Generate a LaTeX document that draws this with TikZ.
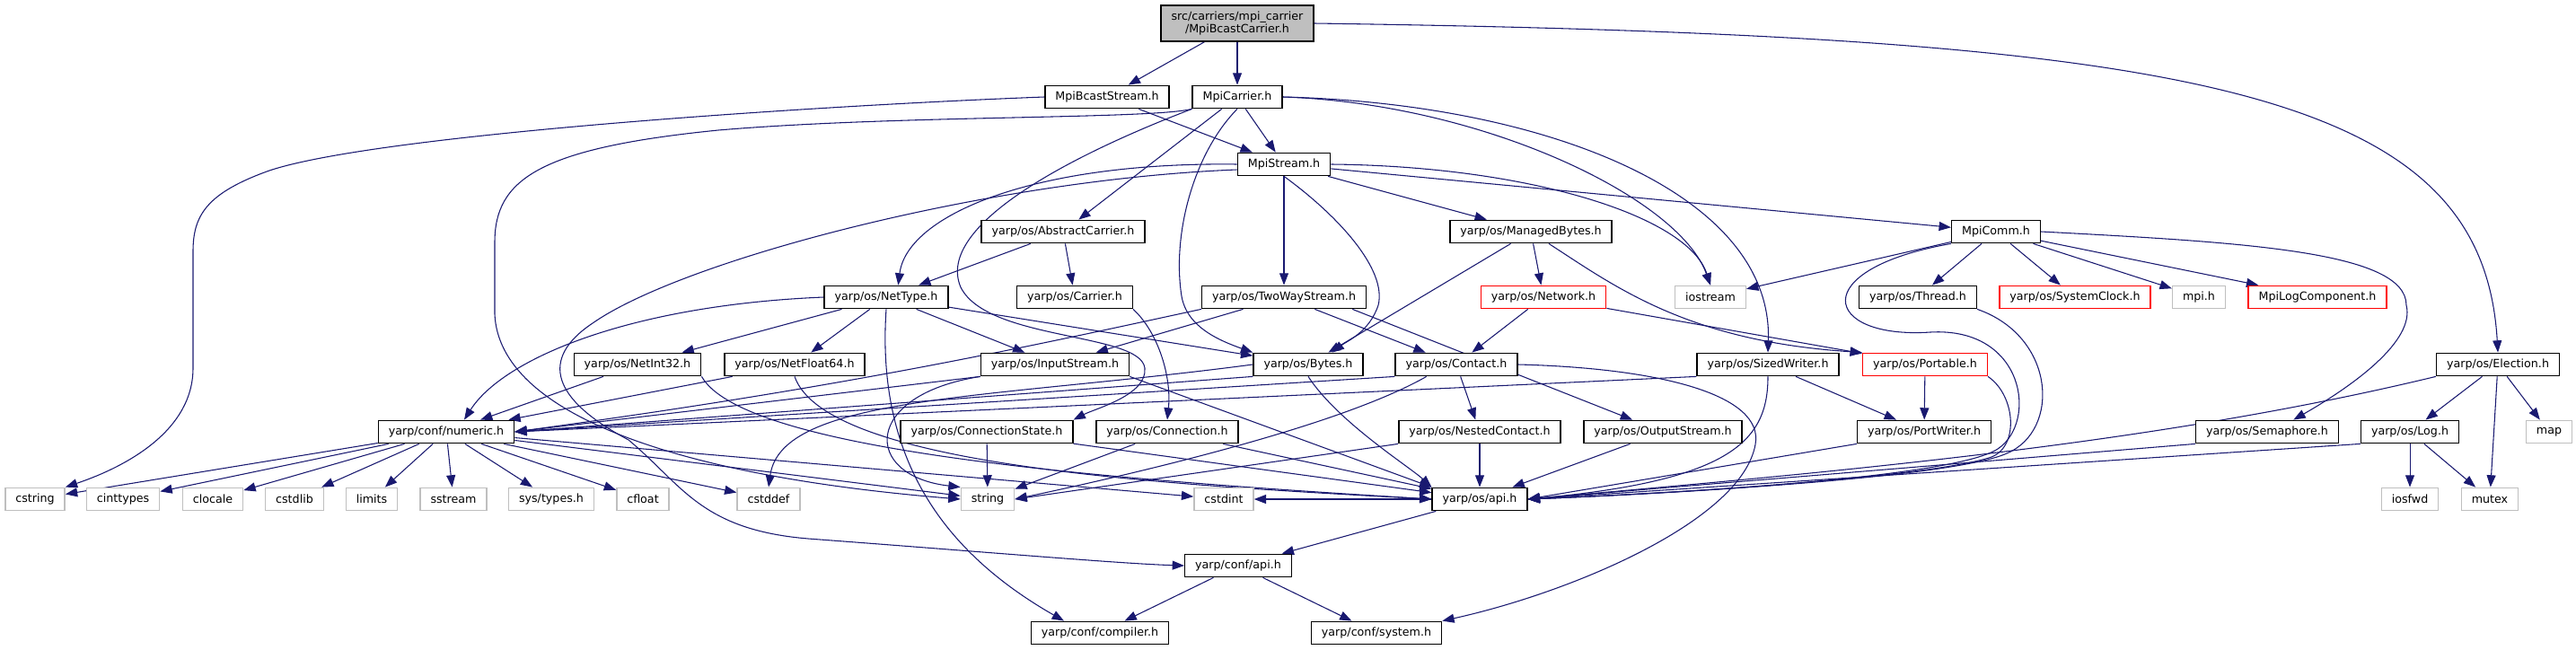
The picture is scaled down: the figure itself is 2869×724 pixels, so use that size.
\documentclass[tikz,border=0pt]{standalone}
\usepackage{fontspec}
\setmainfont{DejaVu Sans}
\usetikzlibrary{arrows.meta, backgrounds}

\definecolor{edgeblue}{HTML}{191970}
\definecolor{sysgray}{HTML}{BFBFBF}

\begin{document}
\begin{tikzpicture}[x=0.75pt, y=-0.75pt,
    every node/.style={font=\fontsize{9.5}{11}\selectfont, fill=white,
      inner xsep=8.6pt, inner ysep=0pt, minimum height=19pt},
    hdr/.style={draw=black, line width=1.1pt},
    redhdr/.style={draw=red, line width=1.1pt},
    syshdr/.style={draw=sysgray, line width=1.1pt},
    dep/.style={edgeblue, line width=0.8pt, -{Triangle[length=10pt, width=7.5pt]}}]
  \useasboundingbox (0,0) rectangle (2869,724);

  % Header of the graph
  \node[hdr, fill=sysgray, align=center, minimum height=30pt] (bcastcarrier) at (1378,26)
    {src/carriers/mpi\_carrier\\/MpiBcastCarrier.h};

  % Carrier headers
  \node[hdr] (bcaststream) at (1233,108) {MpiBcastStream.h};
  \node[hdr] (mpicarrier) at (1378,108) {MpiCarrier.h};
  \node[hdr] (mpistream) at (1430,183) {MpiStream.h};
  \node[hdr] (abscarrier) at (1184,258) {yarp/os/AbstractCarrier.h};
  \node[hdr] (managedbytes) at (1705,258) {yarp/os/ManagedBytes.h};
  \node[hdr] (mpicomm) at (2223,258) {MpiComm.h};

  % Fourth row
  \node[hdr] (nettype) at (987,331) {yarp/os/NetType.h};
  \node[hdr] (carrier) at (1197,331) {yarp/os/Carrier.h};
  \node[hdr] (twowaystream) at (1430,331) {yarp/os/TwoWayStream.h};
  \node[redhdr] (network) at (1719,331) {yarp/os/Network.h};
  \node[syshdr] (iostream) at (1905,331) {iostream};
  \node[hdr] (thread) at (2136,331) {yarp/os/Thread.h};
  \node[redhdr] (sysclock) at (2311,331) {yarp/os/SystemClock.h};
  \node[syshdr] (mpih) at (2449,331) {mpi.h};
  \node[redhdr] (logcomp) at (2581,331) {MpiLogComponent.h};

  % Fifth row
  \node[hdr] (netint) at (710,406) {yarp/os/NetInt32.h};
  \node[hdr] (netfloat) at (885,406) {yarp/os/NetFloat64.h};
  \node[hdr] (inputstream) at (1175,406) {yarp/os/InputStream.h};
  \node[hdr] (bytes) at (1457,406) {yarp/os/Bytes.h};
  \node[hdr] (contact) at (1622,406) {yarp/os/Contact.h};
  \node[hdr] (sizedwriter) at (1969,406) {yarp/os/SizedWriter.h};
  \node[redhdr] (portable) at (2144,406) {yarp/os/Portable.h};
  \node[hdr] (election) at (2782,406) {yarp/os/Election.h};

  % Sixth row
  \node[hdr] (numeric) at (497,481) {yarp/conf/numeric.h};
  \node[hdr] (connstate) at (1099,481) {yarp/os/ConnectionState.h};
  \node[hdr] (connection) at (1300,481) {yarp/os/Connection.h};
  \node[hdr] (nestedcontact) at (1648,481) {yarp/os/NestedContact.h};
  \node[hdr] (outputstream) at (1852,481) {yarp/os/OutputStream.h};
  \node[hdr] (portwriter) at (2143,481) {yarp/os/PortWriter.h};
  \node[hdr] (semaphore) at (2525,481) {yarp/os/Semaphore.h};
  \node[hdr] (oslog) at (2684,481) {yarp/os/Log.h};
  \node[syshdr] (map) at (2839,481) {map};

  % System headers
  \foreach \inc/\px in {cstring/39, cinttypes/137, clocale/237, cstdlib/328, limits/414,
      sstream/505, cfloat/716, cstddef/856, string/1100, cstdint/1363, iosfwd/2684, mutex/2773}
    \node[syshdr] (\inc) at (\px,556) {\inc};
  \node[syshdr] (systypes) at (614,556) {sys/types.h};
  \node[hdr] (osapi) at (1648,556) {yarp/os/api.h};

  % Bottom rows
  \node[hdr] (confapi) at (1379,630) {yarp/conf/api.h};
  \node[hdr] (compiler) at (1225,705) {yarp/conf/compiler.h};
  \node[hdr] (confsystem) at (1533,705) {yarp/conf/system.h};

  \begin{scope}[on background layer]
    % Straight includes
    \foreach \src/\dst in {bcastcarrier/bcaststream, bcastcarrier/mpicarrier,
        bcaststream/mpistream, mpicarrier/mpistream, mpicarrier/abscarrier,
        mpistream/twowaystream, mpistream/managedbytes, mpistream/mpicomm,
        abscarrier/nettype, abscarrier/carrier, managedbytes/bytes, managedbytes/network,
        mpicomm/iostream, mpicomm/thread, mpicomm/sysclock, mpicomm/mpih, mpicomm/logcomp,
        nettype/netint, nettype/netfloat, nettype/inputstream, nettype/bytes,
        twowaystream/inputstream, twowaystream/contact,
        network/contact, network/portable, netint/numeric, netfloat/numeric,
        contact/nestedcontact, sizedwriter/portwriter, portable/portwriter,
        election/oslog, election/map, election/mutex,
        connstate/string, connstate/osapi, connection/string, connection/osapi,
        nestedcontact/osapi, outputstream/osapi, oslog/iosfwd, oslog/mutex,
        osapi/confapi, osapi/cstdint, confapi/compiler, confapi/confsystem}
      \draw[dep] (\src) -- (\dst);
    \draw[dep] ([xshift=-12pt]twowaystream.south east) -- (outputstream);

    % numeric.h pulls in the standard headers
    \foreach \dst in {cstring, cinttypes, clocale, cstdlib, limits, sstream,
        systypes, cfloat, cstddef, string, cstdint}
      \draw[dep] (numeric) -- (\dst);

    % Long lines into numeric.h and api.h
    \foreach \src in {inputstream, bytes, contact, sizedwriter}
      \draw[dep] (\src.south west) -- (numeric.east);
    \foreach \src in {portwriter, semaphore, oslog}
      \draw[dep] (\src.south west) -- (osapi.east);
    \draw[dep] (nestedcontact.south west) -- (string.east);
    \draw[dep] (inputstream.south east) -- (osapi.north west);

    % Curved includes, top part
    \draw[dep] (bcastcarrier.east) .. controls (2450,40) and (2765,100) .. (election.north);
    \draw[dep] (bcaststream.west) .. controls (900,118) and (420,150) .. (300,190)
      .. controls (230,215) and (215,240) .. (215,280) -- (215,410)
      .. controls (215,480) and (140,520) .. (cstring.north east);
    \draw[dep] (mpicarrier.south west) .. controls (1280,133) and (1000,128) .. (800,145)
      .. controls (600,165) and (551,200) .. (551,270) -- (551,350)
      .. controls (556,460) and (750,530) .. (string.west);
    \draw[dep] (mpicarrier.south west) .. controls (1200,170) and (1040,250) .. (1070,320)
      .. controls (1100,380) and (1270,370) .. (1275,410)
      .. controls (1278,440) and (1220,455) .. (connstate.north east);
    \draw[dep] (mpicarrier.south) .. controls (1330,170) and (1305,260) .. (1316,330)
      .. controls (1322,365) and (1360,380) .. (bytes.north west);
    \draw[dep] (mpicarrier.east) .. controls (1720,115) and (1975,215) .. (sizedwriter.north);
    \draw[dep] (mpicarrier.east) .. controls (1650,115) and (1870,220) .. (iostream.north);
    \draw[dep] (mpistream.east) .. controls (1700,185) and (1880,240) .. (iostream.north);
    \draw[dep] (mpistream.west) .. controls (1150,180) and (1010,240) .. ([xshift=10pt]nettype.north);
    \draw[dep] ([yshift=-4.5pt]mpistream.west) .. controls (1100,200) and (760,290) .. (660,360)
      .. controls (600,400) and (615,445) .. (700,490)
      .. controls (760,540) and (780,590) .. (900,600)
      .. controls (1100,615) and (1250,628) .. (confapi.west);
    \draw[dep] (mpistream.south) .. controls (1490,240) and (1545,300) .. (1535,340)
      .. controls (1525,370) and (1500,380) .. ([xshift=20pt]bytes.north);
    \draw[dep] ([xshift=15pt]managedbytes.south) .. controls (1800,320) and (1880,380) .. (portable.north west);

    % Curved includes, MpiComm side
    \draw[dep] (mpicomm.east) .. controls (2500,270) and (2680,280) .. (2680,340)
      .. controls (2690,380) and (2620,430) .. ([xshift=22pt]semaphore.north);
    \draw[dep] (mpicomm.south west) .. controls (2010,300) and (2030,378) .. (2150,370)
      .. controls (2255,364) and (2270,470) .. (2225,500)
      .. controls (2180,530) and (1900,548) .. (osapi.east);
    \draw[dep] (thread.south east) .. controls (2290,375) and (2295,480) .. (2235,505)
      .. controls (2180,530) and (1900,548) .. (osapi.east);
    \draw[dep] (portable.south east) .. controls (2245,440) and (2250,500) .. (2215,510)
      .. controls (2150,530) and (1900,548) .. (osapi.east);
    \draw[dep] (sizedwriter.south) .. controls (1969,490) and (1930,535) .. (osapi.east);
    \draw[dep] (election.south west) .. controls (2400,495) and (2050,525) .. (osapi.east);

    % Curved includes, lower part
    \draw[dep] (nettype.west) .. controls (700,340) and (560,400) .. ([xshift=15pt]numeric.north);
    \draw[dep] (nettype.south) .. controls (975,520) and (1060,620) .. ([xshift=-30pt]compiler.north);
    \draw[dep] (twowaystream.south west) .. controls (1150,385) and (950,430) .. (numeric.east);
    \draw[dep] (bytes.west) .. controls (1100,445) and (870,440) .. (cstddef.north);
    \draw[dep] (bytes.south) .. controls (1490,470) and (1570,520) .. (osapi.north west);
    \draw[dep] (carrier.south east) .. controls (1290,370) and (1305,420) .. (connection.north);
    \draw[dep] (inputstream.south west) .. controls (960,440) and (960,530) .. (string.north west);
    \draw[dep] (netint.south east) .. controls (830,505) and (1250,535) .. (osapi.west);
    \draw[dep] (netfloat.south) .. controls (920,520) and (1300,540) .. (osapi.west);
    \draw[dep] ([xshift=-25pt]contact.south) .. controls (1500,470) and (1300,520) .. (string.east);
    \draw[dep] (contact.east) .. controls (1850,410) and (1965,440) .. (1955,495)
      .. controls (1940,580) and (1750,660) .. (confsystem.north east);
  \end{scope}
\end{tikzpicture}
\end{document}
